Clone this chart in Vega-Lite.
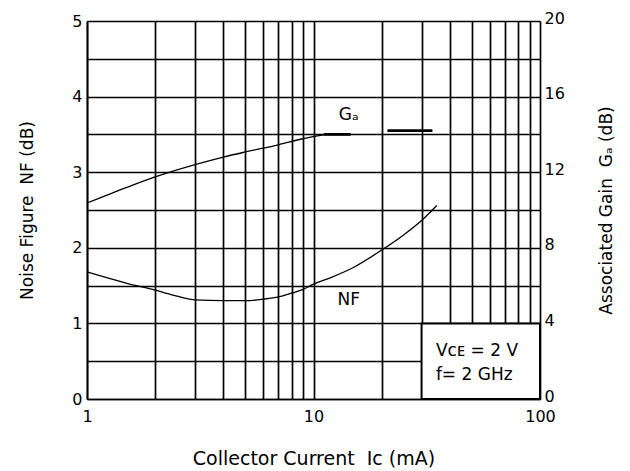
{
  "$schema": "https://vega.github.io/schema/vega-lite/v6.json",
  "width": 453,
  "height": 378,
  "autosize": "none",
  "padding": {"left": 87, "top": 21, "right": 90, "bottom": 72},
  "background": "white",
  "config": {
    "view": {"stroke": null},
    "font": "DejaVu Sans",
    "axis": {
      "labelFont": "DejaVu Sans",
      "labelFontSize": 16,
      "labelColor": "black",
      "titleFont": "DejaVu Sans",
      "titleFontSize": 17,
      "titleFontWeight": "normal",
      "titleColor": "black",
      "ticks": false,
      "gridColor": "black",
      "gridOpacity": 1,
      "gridWidth": 1.7,
      "domainColor": "black",
      "domainWidth": 1.7
    }
  },
  "datasets": {
    "nf": [
      {"I": 1, "NF": 1.68},
      {"I": 1.5, "NF": 1.53},
      {"I": 2, "NF": 1.44},
      {"I": 2.5, "NF": 1.36},
      {"I": 3, "NF": 1.31},
      {"I": 4, "NF": 1.3},
      {"I": 5, "NF": 1.3},
      {"I": 6, "NF": 1.32},
      {"I": 7, "NF": 1.35},
      {"I": 8, "NF": 1.4},
      {"I": 9, "NF": 1.45},
      {"I": 10, "NF": 1.52},
      {"I": 12, "NF": 1.61},
      {"I": 15, "NF": 1.74},
      {"I": 20, "NF": 1.97},
      {"I": 25, "NF": 2.17},
      {"I": 30, "NF": 2.36},
      {"I": 35, "NF": 2.56}
    ],
    "ga": [
      {"I": 1, "Ga": 10.37, "part": "a"},
      {"I": 1.5, "Ga": 11.2, "part": "a"},
      {"I": 2, "Ga": 11.75, "part": "a"},
      {"I": 3, "Ga": 12.4, "part": "a"},
      {"I": 4, "Ga": 12.8, "part": "a"},
      {"I": 5, "Ga": 13.07, "part": "a"},
      {"I": 7, "Ga": 13.45, "part": "a"},
      {"I": 9, "Ga": 13.77, "part": "a"},
      {"I": 11.1, "Ga": 13.97, "part": "a"},
      {"I": 11.1, "Ga": 14.0, "part": "b"},
      {"I": 14.6, "Ga": 14.0, "part": "b"},
      {"I": 21.2, "Ga": 14.2, "part": "c"},
      {"I": 33.5, "Ga": 14.2, "part": "c"}
    ],
    "box": [
      {"I": 30, "I2": 100, "y": 0, "y2": 1}
    ],
    "labels": [
      {"I": 14.3, "y": 1.31, "text": "NF", "align": "center"},
      {"I": 14.3, "y": 3.76, "text": "Gₐ", "align": "center"},
      {"I": 34.7, "y": 0.64, "text": "Vᴄᴇ = 2 V", "align": "left"},
      {"I": 34.7, "y": 0.32, "text": "f= 2 GHz", "align": "left"}
    ]
  },
  "layer": [
    {
      "data": {"name": "nf"},
      "mark": {"type": "line", "color": "black", "strokeWidth": 1.3, "interpolate": "monotone"},
      "encoding": {
        "x": {
          "field": "I",
          "type": "quantitative",
          "scale": {"type": "log", "domain": [1, 100]},
          "axis": {
            "values": [1, 2, 3, 4, 5, 6, 7, 8, 9, 10, 20, 30, 40, 50, 60, 70, 80, 90, 100],
            "labelExpr": "indexof([1, 10, 100], datum.value) >= 0 ? format(datum.value, 'd') : ''",
            "labelFlush": false,
            "labelPadding": 9,
            "grid": true,
            "title": "Collector Current \u00a0Ic (mA)",
            "titleFontSize": 19,
            "titlePadding": 25
          }
        },
        "y": {
          "field": "NF",
          "type": "quantitative",
          "scale": {"domain": [0, 5]},
          "axis": {
            "values": [0, 0.5, 1, 1.5, 2, 2.5, 3, 3.5, 4, 4.5, 5],
            "labelExpr": "datum.value % 1 == 0 ? format(datum.value, 'd') : ''",
            "labelPadding": 5,
            "grid": true,
            "title": "Noise Figure \u00a0NF (dB)",
            "titlePadding": 35
          }
        }
      }
    },
    {
      "data": {"name": "ga"},
      "transform": [{"filter": "datum.part == 'a'"}],
      "mark": {"type": "line", "color": "black", "strokeWidth": 1.3, "interpolate": "monotone"},
      "encoding": {
        "x": {"field": "I", "type": "quantitative"},
        "y": {
          "field": "Ga",
          "type": "quantitative",
          "scale": {"domain": [0, 20]},
          "axis": {
            "orient": "right",
            "values": [0, 4, 8, 12, 16, 20],
            "grid": false,
            "domain": false,
            "labelPadding": 4,
            "labelOffset": -3,
            "title": "Associated Gain \u00a0Gₐ (dB)",
            "titleFontSize": 17,
            "titleAngle": 270,
            "titleBaseline": "top",
            "titlePadding": 34
          }
        }
      }
    },
    {
      "data": {"name": "ga"},
      "transform": [{"filter": "datum.part != 'a'"}],
      "mark": {"type": "line", "color": "black", "strokeWidth": 2.8},
      "encoding": {
        "x": {"field": "I", "type": "quantitative"},
        "y": {"field": "Ga", "type": "quantitative", "scale": {"domain": [0, 20]}, "axis": null},
        "detail": {"field": "part"}
      }
    },
    {
      "data": {"name": "box"},
      "mark": {"type": "rect", "fill": "white", "stroke": "black", "strokeWidth": 2},
      "encoding": {
        "x": {"field": "I", "type": "quantitative"},
        "x2": {"field": "I2"},
        "y": {"field": "y", "type": "quantitative", "scale": {"domain": [0, 5]}, "axis": null},
        "y2": {"field": "y2"}
      }
    },
    {
      "data": {"name": "labels"},
      "transform": [{"filter": "datum.align == 'center'"}],
      "mark": {"type": "text", "font": "DejaVu Sans", "fontSize": 17, "color": "black", "align": "center", "baseline": "middle"},
      "encoding": {
        "x": {"field": "I", "type": "quantitative"},
        "y": {"field": "y", "type": "quantitative", "scale": {"domain": [0, 5]}, "axis": null},
        "text": {"field": "text"}
      }
    },
    {
      "data": {"name": "labels"},
      "transform": [{"filter": "datum.align == 'left'"}],
      "mark": {"type": "text", "font": "DejaVu Sans", "fontSize": 17, "color": "black", "align": "left", "baseline": "middle"},
      "encoding": {
        "x": {"field": "I", "type": "quantitative"},
        "y": {"field": "y", "type": "quantitative", "scale": {"domain": [0, 5]}, "axis": null},
        "text": {"field": "text"}
      }
    }
  ],
  "resolve": {"scale": {"y": "independent"}}
}
